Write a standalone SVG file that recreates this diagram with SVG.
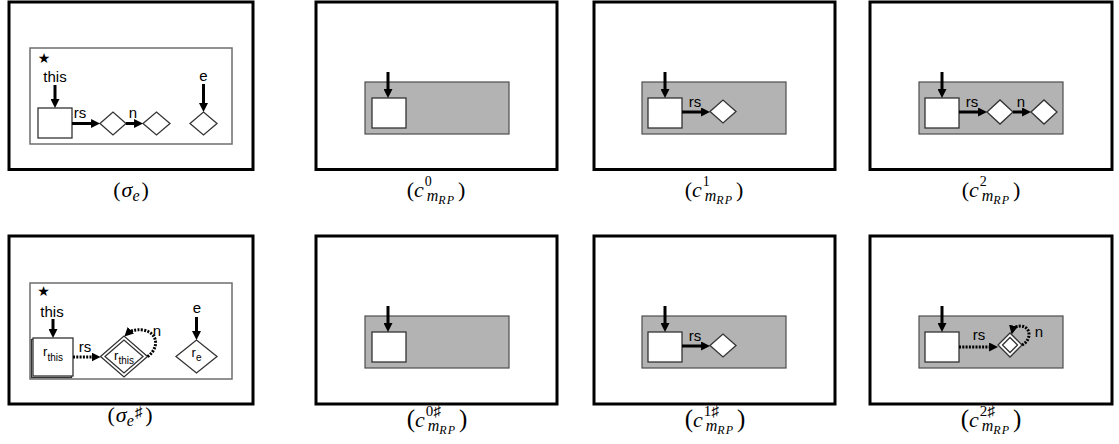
<svg xmlns="http://www.w3.org/2000/svg" width="1119" height="444" viewBox="0 0 1119 444">
<style>
.frame{fill:#fff;stroke:#000;stroke-width:3}
.inner{fill:none;stroke:#6e6e6e;stroke-width:1.5}
.gray{fill:#b3b3b3;stroke:#4d4d4d;stroke-width:1.2}
.node{fill:#fff;stroke:#333;stroke-width:1.3}
.edge{fill:none;stroke:#000;stroke-width:3;marker-end:url(#ah)}
.dot{stroke-dasharray:2 1.3}
.lbl{font-family:"Liberation Sans",Arial,sans-serif;font-size:15px;fill:#000}
.star{font-family:"DejaVu Sans",sans-serif;font-size:14px;fill:#000}
.m{font-family:"Liberation Serif","DejaVu Serif",serif;fill:#000}
.i{font-style:italic}
</style>
<defs>
<marker id="ah" viewBox="0 0 10 10" refX="5.5" refY="5" markerWidth="9" markerHeight="9" markerUnits="userSpaceOnUse" orient="auto"><path d="M0,0 L10,5 L0,10 z" fill="#000"/></marker>
</defs>

<!-- frames and containers -->
<g id="frames">
<rect class="frame" x="9" y="2" width="244" height="167.5"/>
<rect class="frame" x="316" y="2" width="241" height="167.5"/>
<rect class="frame" x="594" y="2" width="241" height="167.5"/>
<rect class="frame" x="870" y="2" width="242" height="167.5"/>
<rect class="frame" x="9" y="236" width="244" height="168"/>
<rect class="frame" x="316" y="236" width="241" height="168"/>
<rect class="frame" x="594" y="236" width="241" height="168"/>
<rect class="frame" x="870" y="236" width="242" height="168"/>
<rect class="inner" x="30" y="48" width="202" height="96"/>
<rect class="inner" x="30" y="283" width="202" height="96"/>
<rect class="gray" x="365" y="82" width="144" height="52"/>
<rect class="gray" x="642" y="82" width="144" height="52"/>
<rect class="gray" x="919" y="82" width="144" height="52"/>
<rect class="gray" x="365" y="316" width="144" height="52"/>
<rect class="gray" x="642" y="316" width="144" height="52"/>
<rect class="gray" x="919" y="316" width="144" height="52"/>
</g>

<!-- panel 1 top -->
<g id="p1-star"><text class="star" x="44" y="63" text-anchor="middle">★</text></g>
<g id="p1-this"><text class="lbl" x="55" y="82" text-anchor="middle">this</text></g>
<g id="p1-obj"><rect class="node" x="38" y="108" width="34" height="30"/></g>
<g id="p1-d1"><polygon class="node" points="100,123.5 113,112 126,123.5 113,135"/></g>
<g id="p1-d2"><polygon class="node" points="143,123.5 156.5,112 170,123.5 156.5,135"/></g>
<g id="p1-e"><text class="lbl" x="203.5" y="81" text-anchor="middle">e</text></g>
<g id="p1-de"><polygon class="node" points="190,123.5 203.5,112 217,123.5 203.5,135"/></g>

<!-- panel 2 top -->
<g id="p2-obj"><rect class="node" x="372" y="98" width="34" height="30"/></g>
<!-- panel 3 top -->
<g id="p3-obj"><rect class="node" x="648" y="98" width="34" height="30"/></g>
<g id="p3-d1"><polygon class="node" points="710,111.5 723,100 736,111.5 723,123"/></g>
<!-- panel 4 top -->
<g id="p4-obj"><rect class="node" x="925" y="98" width="34" height="30"/></g>
<g id="p4-d1"><polygon class="node" points="987,112 1000,100 1013,112 1000,124"/></g>
<g id="p4-d2"><polygon class="node" points="1031,112 1044,100 1057,112 1044,124"/></g>

<!-- panel 1 bottom -->
<g id="q1-star"><text class="star" x="43.5" y="296" text-anchor="middle">★</text></g>
<g id="q1-this"><text class="lbl" x="52" y="317" text-anchor="middle">this</text></g>
<g id="q1-obj"><rect class="node" x="31.5" y="339.5" width="40" height="38" stroke-width="1"/>
<rect class="node" x="33" y="338" width="40" height="38"/>
<text class="lbl" x="53" y="356" text-anchor="middle"><tspan font-size="13">r</tspan><tspan font-size="10" dy="5">this</tspan></text></g>
<g id="q1-sum"><polygon class="node" points="100.5,356.5 124,336 147.5,356.5 124,377"/>
<polygon class="node" points="105,356.5 124,340 143,356.5 124,373"/>
<text class="lbl" x="124" y="360" text-anchor="middle"><tspan font-size="13">r</tspan><tspan font-size="10" dy="4">this</tspan></text></g>
<g id="q1-e"><text class="lbl" x="197" y="313" text-anchor="middle">e</text></g>
<g id="q1-re"><polygon class="node" points="176,356.5 196.5,340 217,356.5 196.5,373"/>
<text class="lbl" x="196.5" y="357" text-anchor="middle"><tspan font-size="13">r</tspan><tspan font-size="10" dy="4">e</tspan></text></g>

<!-- panel 2 bottom -->
<g id="q2-obj"><rect class="node" x="372" y="332" width="34" height="30"/></g>
<!-- panel 3 bottom -->
<g id="q3-obj"><rect class="node" x="648" y="332" width="34" height="30"/></g>
<g id="q3-d1"><polygon class="node" points="710,345.5 723,334 736,345.5 723,357"/></g>
<!-- panel 4 bottom -->
<g id="q4-obj"><rect class="node" x="925" y="332" width="34" height="30"/></g>
<g id="q4-sum"><polygon class="node" points="998,345 1010,333 1022,345 1010,357"/>
<polygon class="node" points="1002.5,345 1010,337.5 1017.5,345 1010,352.5"/></g>

<!-- connectors -->
<g id="connectors">
<path class="edge" d="M55,85 V104"/>
<path class="edge" d="M72,123.5 H96"/>
<path class="edge" d="M126,123.5 H139"/>
<path class="edge" d="M203.5,84 V108"/>
<path class="edge" d="M388,72 V94"/>
<path class="edge" d="M665,72 V94"/>
<path class="edge" d="M682,112 H706"/>
<path class="edge" d="M942,72 V94"/>
<path class="edge" d="M959,112 H983"/>
<path class="edge" d="M1013,112 H1027"/>

<path class="edge" d="M53,319 V334"/>
<path class="edge dot" d="M73,357 H96.5"/>
<path class="edge dot" d="M147.5,356.5 C158,350 160,333 143,330 C135,329 130,331 127.3,333.7"/>
<path class="edge" d="M196.5,317 V336"/>
<path class="edge" d="M388,306 V328"/>
<path class="edge" d="M665,306 V328"/>
<path class="edge" d="M682,346 H706"/>
<path class="edge" d="M942,306 V328"/>
<path class="edge dot" d="M959,347 H994"/>
<path class="edge dot" d="M1022,345 C1031,341 1032,327 1021,326 C1016,326 1013,328 1012.5,330.5"/>

<text class="lbl" x="80" y="118" text-anchor="middle">rs</text>
<text class="lbl" x="133" y="118" text-anchor="middle">n</text>
<text class="lbl" x="695" y="107" text-anchor="middle">rs</text>
<text class="lbl" x="972" y="107" text-anchor="middle">rs</text>
<text class="lbl" x="1021" y="107" text-anchor="middle">n</text>
<text class="lbl" x="85" y="352" text-anchor="middle">rs</text>
<text class="lbl" x="157" y="336" text-anchor="middle">n</text>
<text class="lbl" x="695" y="341" text-anchor="middle">rs</text>
<text class="lbl" x="979" y="340" text-anchor="middle">rs</text>
<text class="lbl" x="1039" y="337" text-anchor="middle">n</text>
</g>

<!-- captions -->
<g id="captions" class="m">
<text x="131" y="197" text-anchor="middle" font-size="22">(<tspan class="i" dx="1">σ</tspan><tspan class="i" font-size="16" dy="4">e</tspan><tspan dy="-4" dx="2">)</tspan></text>

<text x="436" y="197" text-anchor="middle" font-size="22">(<tspan class="i">c</tspan><tspan font-size="14" dy="-11" dx="1">0</tspan><tspan class="i" font-size="16" dy="15" dx="-5">m</tspan><tspan class="i" font-size="12" dy="3" letter-spacing="1">RP</tspan><tspan dy="-7" dx="3">)</tspan></text>
<text x="714" y="197" text-anchor="middle" font-size="22">(<tspan class="i">c</tspan><tspan font-size="14" dy="-11" dx="1">1</tspan><tspan class="i" font-size="16" dy="15" dx="-5">m</tspan><tspan class="i" font-size="12" dy="3" letter-spacing="1">RP</tspan><tspan dy="-7" dx="3">)</tspan></text>
<text x="991" y="197" text-anchor="middle" font-size="22">(<tspan class="i">c</tspan><tspan font-size="14" dy="-11" dx="1">2</tspan><tspan class="i" font-size="16" dy="15" dx="-5">m</tspan><tspan class="i" font-size="12" dy="3" letter-spacing="1">RP</tspan><tspan dy="-7" dx="3">)</tspan></text>

<text x="130" y="422" text-anchor="middle" font-size="22">(<tspan class="i" dx="1">σ</tspan><tspan class="i" font-size="16" dy="4">e</tspan><tspan font-size="15" dy="-9" dx="1">♯</tspan><tspan dy="5" dx="3">)</tspan></text>

<text x="437" y="427" text-anchor="middle" font-size="25">(<tspan class="i" font-size="22">c</tspan><tspan font-size="15" dy="-11" dx="1">0♯</tspan><tspan class="i" font-size="16" dy="15" dx="-13">m</tspan><tspan class="i" font-size="12" dy="3" letter-spacing="1">RP</tspan><tspan dy="-7" dx="3">)</tspan></text>
<text x="715" y="427" text-anchor="middle" font-size="25">(<tspan class="i" font-size="22">c</tspan><tspan font-size="15" dy="-11" dx="1">1♯</tspan><tspan class="i" font-size="16" dy="15" dx="-13">m</tspan><tspan class="i" font-size="12" dy="3" letter-spacing="1">RP</tspan><tspan dy="-7" dx="3">)</tspan></text>
<text x="991" y="427" text-anchor="middle" font-size="25">(<tspan class="i" font-size="22">c</tspan><tspan font-size="15" dy="-11" dx="1">2♯</tspan><tspan class="i" font-size="16" dy="15" dx="-13">m</tspan><tspan class="i" font-size="12" dy="3" letter-spacing="1">RP</tspan><tspan dy="-7" dx="3">)</tspan></text>
</g>
</svg>
